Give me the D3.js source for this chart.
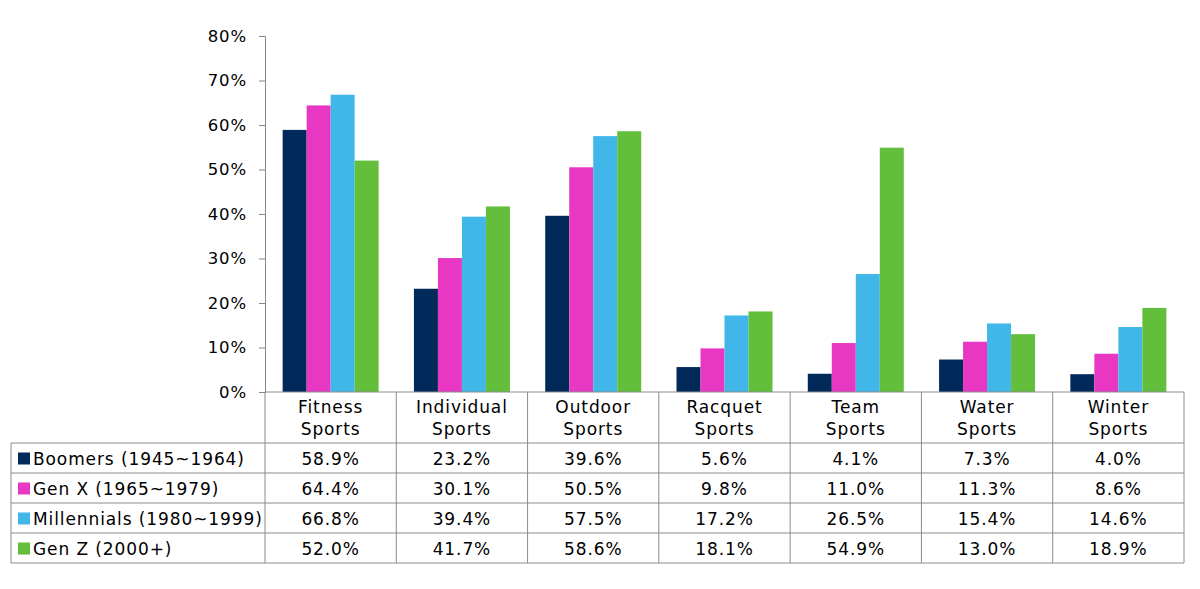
<!DOCTYPE html>
<html>
<head>
<meta charset="utf-8">
<script src="https://cdn.jsdelivr.net/npm/d3@7"></script>
<style>
  body { margin: 0; background: #fff; }
  svg text { font-family: "DejaVu Sans", Verdana, sans-serif; fill: #000; letter-spacing: 0.9px; }
</style>
</head>
<body>
<div id="chart"></div>
<script>
const categories = ["Fitness Sports", "Individual Sports", "Outdoor Sports", "Racquet Sports",
    "Team Sports", "Water Sports", "Winter Sports"];
const seriesNames = ["Boomers (1945~1964)", "Gen X (1965~1979)", "Millennials (1980~1999)", "Gen Z (2000+)"];
const boomers = [58.9, 23.2, 39.6, 5.6, 4.1, 7.3, 4.0];
const genX = [64.4, 30.1, 50.5, 9.8, 11.0, 11.3, 8.6];
const millennials = [66.8, 39.4, 57.5, 17.2, 26.5, 15.4, 14.6];
const genZ = [52.0, 41.7, 58.6, 18.1, 54.9, 13.0, 18.9];
const colors = ["#012a5a", "#e838c3", "#40b7e8", "#63be3b"];
const yTicks = [0, 10, 20, 30, 40, 50, 60, 70, 80];

const series = [boomers, genX, millennials, genZ];

const width = 1200, height = 589;
const plotLeft = 265, plotRight = 1184, plotTop = 36, plotBottom = 392;
const tableLeft = 11, headerBottom = 443, rowH = 30;

const svg = d3.select("#chart").append("svg")
    .attr("width", width)
    .attr("height", height);

const x0 = d3.scaleBand()
    .domain(categories)
    .range([plotLeft, plotRight]);

const x1 = d3.scaleBand()
    .domain(d3.range(series.length))
    .range([0, x0.bandwidth()])
    .paddingOuter((x0.bandwidth() / 24 - series.length) / 2);

const y = d3.scaleLinear()
    .domain([0, 80])
    .range([plotBottom, plotTop]);

// bars
const groups = svg.append("g").selectAll("g")
    .data(categories)
    .join("g")
    .attr("transform", d => `translate(${x0(d)},0)`);

groups.selectAll("rect")
    .data((d, i) => series.map((s, k) => ({ k, v: s[i] })))
    .join("rect")
    .attr("x", d => x1(d.k))
    .attr("width", x1.bandwidth())
    .attr("y", d => y(d.v))
    .attr("height", d => plotBottom - y(d.v))
    .attr("fill", d => colors[d.k]);

// y axis
const yAxis = svg.append("g")
    .attr("transform", `translate(${plotLeft},0)`)
    .call(d3.axisLeft(y).tickValues(yTicks).tickSize(6).tickPadding(12).tickFormat(d => d + "%"));
yAxis.select(".domain").attr("stroke", "#868686");
yAxis.selectAll(".tick line").attr("stroke", "#868686");
yAxis.selectAll(".tick text").attr("font-size", "16.5px")
    .attr("font-family", "DejaVu Sans").attr("fill", "#000");

// table
const gridColor = "#8c8c8c";
const table = svg.append("g");
const tableBottom = headerBottom + rowH * series.length;

table.append("line").attr("x1", plotLeft).attr("x2", plotRight)
    .attr("y1", plotBottom).attr("y2", plotBottom)
    .attr("stroke", gridColor);
const colEdges = categories.map(c => x0(c)).concat([plotRight]);
table.selectAll(".vline")
    .data(colEdges)
    .join("line")
    .attr("x1", d => d).attr("x2", d => d)
    .attr("y1", plotBottom).attr("y2", tableBottom)
    .attr("stroke", gridColor);
const rowEdges = d3.range(series.length + 1).map(i => headerBottom + i * rowH);
table.selectAll(".hline")
    .data(rowEdges)
    .join("line")
    .attr("x1", tableLeft).attr("x2", plotRight)
    .attr("y1", d => d).attr("y2", d => d)
    .attr("stroke", gridColor);
table.append("line").attr("x1", tableLeft).attr("x2", tableLeft)
    .attr("y1", headerBottom).attr("y2", tableBottom).attr("stroke", gridColor);

// header labels
const header = table.selectAll(".head")
    .data(categories)
    .join("text")
    .attr("text-anchor", "middle")
    .attr("font-size", "17px");
header.append("tspan").attr("x", d => x0(d) + x0.bandwidth() / 2).attr("y", 413).text(d => d.split(" ")[0]);
header.append("tspan").attr("x", d => x0(d) + x0.bandwidth() / 2).attr("y", 434.5).text(d => d.split(" ")[1]);

// legend rows + values
seriesNames.forEach((name, k) => {
    const yy = headerBottom + k * rowH;
    table.append("rect")
        .attr("x", 18).attr("y", yy + 9.5)
        .attr("width", 12).attr("height", 12)
        .attr("fill", colors[k]);
    table.append("text")
        .attr("x", 33).attr("y", yy + 22)
        .attr("font-size", "17px")
        .text(name);
    table.selectAll(null)
        .data(series[k])
        .join("text")
        .attr("text-anchor", "middle")
        .attr("font-size", "17px")
        .attr("x", (d, i) => x0(categories[i]) + x0.bandwidth() / 2)
        .attr("y", yy + 22)
        .text(d => d.toFixed(1) + "%");
});
</script>
</body>
</html>
